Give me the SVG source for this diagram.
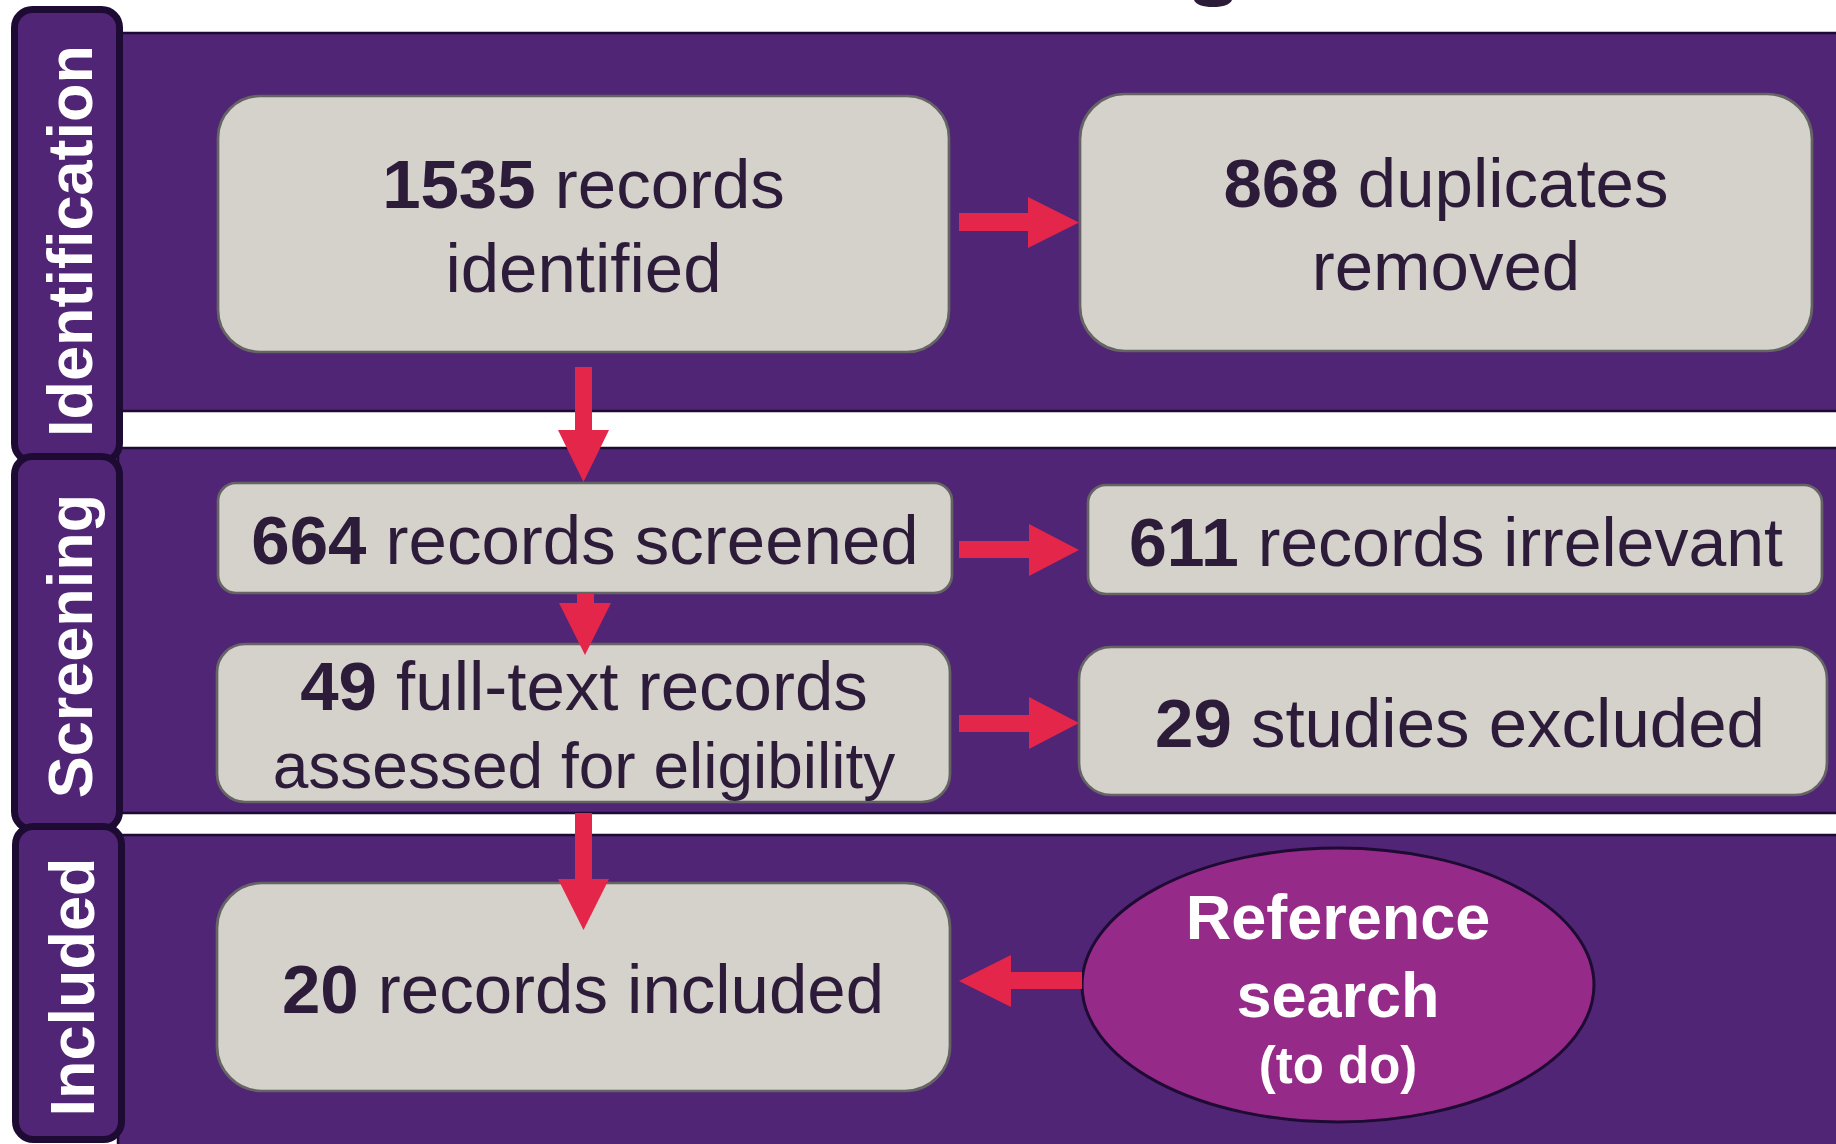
<svg xmlns="http://www.w3.org/2000/svg" width="1836" height="1144" viewBox="0 0 1836 1144">
  <defs>
    <style>
      .band { fill: #512575; stroke: #1e0b33; stroke-width: 2.5; }
      .tab { fill: #512575; stroke: #1e0b33; stroke-width: 7; }
      .tab-label { font-family: "Liberation Sans", Arial, sans-serif; font-weight: bold; font-size: 63px; fill: #ffffff; text-anchor: middle; }
      .box { fill: #d5d1cb; stroke: #646464; stroke-width: 2.7; }
      .box-text { font-family: "Liberation Sans", Arial, sans-serif; font-size: 69px; fill: #2d1b3a; text-anchor: middle; }
      .box-text.small { font-size: 64px; }
      .box-text.tight { font-size: 68px; }
      .num { font-weight: bold; }
      .arrow { fill: #e4264a; }
      .oval { fill: #952a88; stroke: #1e0b33; stroke-width: 3; }
      .oval-text { font-family: "Liberation Sans", Arial, sans-serif; font-weight: bold; fill: #ffffff; text-anchor: middle; font-size: 63px; }
      .oval-text.note { font-size: 51px; }
    </style>
  </defs>

  <rect width="1836" height="1144" fill="#ffffff"/>

  <!-- descender of the title line above the frame -->
  <path d="M1194,0 Q1197,7 1213,7 Q1229,7 1232,0 Z" fill="#2d1b3a"/>

  <!-- stage bands -->
  <g id="bands">
    <rect class="band" x="118" y="33" width="1730" height="378"/>
    <rect class="band" x="118" y="448" width="1730" height="365"/>
    <rect class="band" x="118" y="835" width="1730" height="320"/>
  </g>

  <!-- stage tabs -->
  <g id="tab-identification">
    <rect class="tab" x="14.5" y="9.5" width="105" height="452" rx="18"/>
    <text class="tab-label" transform="translate(92,241) rotate(-90)">Identification</text>
  </g>
  <g id="tab-screening">
    <rect class="tab" x="14.5" y="456.5" width="105" height="373" rx="18"/>
    <text class="tab-label" transform="translate(92,646) rotate(-90)">Screening</text>
  </g>
  <g id="tab-included">
    <rect class="tab" x="15.5" y="826.5" width="106" height="313" rx="18"/>
    <text class="tab-label" transform="translate(94,987) rotate(-90)">Included</text>
  </g>

  <!-- nodes -->
  <g id="node-identified">
    <rect class="box" x="218" y="96" width="731" height="256" rx="42"/>
    <text class="box-text" x="583.5" y="208"><tspan class="num">1535</tspan> records</text>
    <text class="box-text" x="583.5" y="292">identified</text>
  </g>
  <g id="node-duplicates">
    <rect class="box" x="1080" y="94" width="732" height="257" rx="45"/>
    <text class="box-text" x="1446" y="207"><tspan class="num">868</tspan> duplicates</text>
    <text class="box-text" x="1446" y="290">removed</text>
  </g>
  <g id="node-screened">
    <rect class="box" x="218" y="483" width="734" height="110" rx="18"/>
    <text class="box-text" x="585" y="564"><tspan class="num">664</tspan> records screened</text>
  </g>
  <g id="node-irrelevant">
    <rect class="box" x="1088" y="485" width="734" height="109" rx="18"/>
    <text class="box-text tight" x="1456" y="566"><tspan class="num">611</tspan> records irrelevant</text>
  </g>
  <g id="node-fulltext">
    <rect class="box" x="217" y="644" width="733" height="158" rx="28"/>
    <text class="box-text" x="584" y="710"><tspan class="num">49</tspan> full-text records</text>
    <text class="box-text small" x="584" y="788">assessed for eligibility</text>
  </g>
  <g id="node-excluded">
    <rect class="box" x="1079" y="647" width="748" height="148" rx="32"/>
    <text class="box-text" x="1460" y="747"><tspan class="num">29</tspan> studies excluded</text>
  </g>
  <g id="node-included">
    <rect class="box" x="217" y="883" width="733" height="208" rx="45"/>
    <text class="box-text" x="583" y="1013"><tspan class="num">20</tspan> records included</text>
  </g>
  <g id="node-reference-search">
    <ellipse class="oval" cx="1338" cy="985" rx="256" ry="137"/>
    <text class="oval-text" x="1338" y="939">Reference</text>
    <text class="oval-text" x="1338" y="1017">search</text>
    <text class="oval-text note" x="1338" y="1083">(to do)</text>
  </g>

  <!-- connectors -->
  <g id="connectors">
    <polygon class="arrow" points="959,213 1028,213 1028,197 1079,222.5 1028,248 1028,231 959,231"/>
    <polygon class="arrow" points="575,367 592,367 592,430 609,430 583.5,482 558,430 575,430"/>
    <polygon class="arrow" points="959,541 1029,541 1029,524 1079,550 1029,576 1029,558 959,558"/>
    <polygon class="arrow" points="577,593 594,593 594,603 611,603 585,655 559,603 577,603"/>
    <polygon class="arrow" points="959,715 1029,715 1029,697 1079,723 1029,749 1029,732 959,732"/>
    <polygon class="arrow" points="575,813 592,813 592,879 609,879 583.5,930 558,879 575,879"/>
    <polygon class="arrow" points="1082,972 1011,972 1011,955 959,981 1011,1007 1011,989 1082,989"/>
  </g>
</svg>
